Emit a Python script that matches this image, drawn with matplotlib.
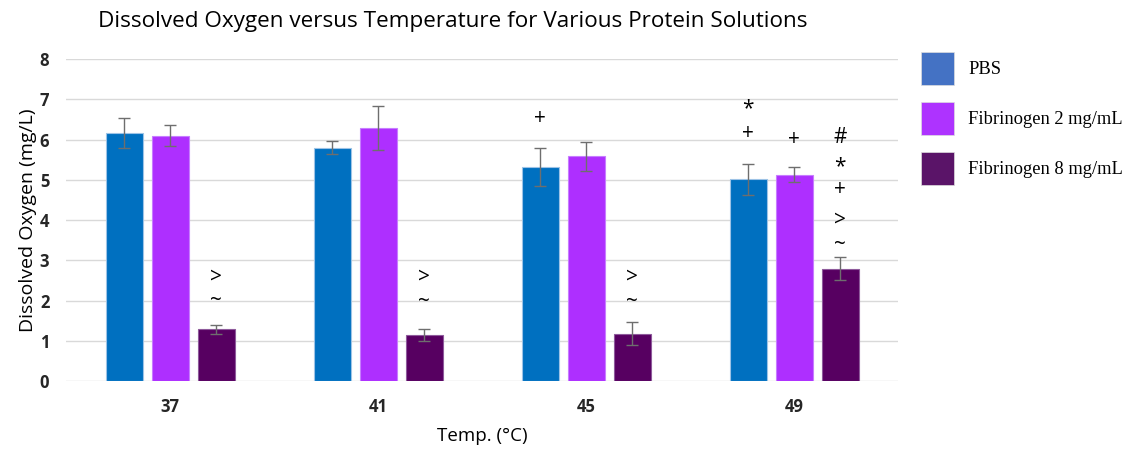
import matplotlib
matplotlib.use("Agg")
import matplotlib.pyplot as plt
from matplotlib.patches import Patch
import numpy as np

temps = ["37", "41", "45", "49"]
series = ["PBS", "Fibrinogen 2 mg/mL", "Fibrinogen 8 mg/mL"]
pbs = [6.16, 5.80, 5.32, 5.01]
fib2 = [6.09, 6.29, 5.58, 5.13]
fib8 = [1.28, 1.15, 1.18, 2.79]
pbs_err = [0.38, 0.16, 0.47, 0.39]
fib2_err = [0.26, 0.55, 0.36, 0.19]
fib8_err = [0.10, 0.15, 0.29, 0.28]

# significance markers: (temperature index, series index, symbol, y position)
markers = [
    (0, 2, ">", 2.58), (0, 2, "~", 1.99),
    (1, 2, ">", 2.58), (1, 2, "~", 1.97),
    (2, 0, "+", 6.53),
    (2, 2, ">", 2.58), (2, 2, "~", 1.97),
    (3, 0, "*", 6.76), (3, 0, "+", 6.14),
    (3, 1, "+", 5.99),
    (3, 2, "#", 6.04), (3, 2, "*", 5.32), (3, 2, "+", 4.77),
    (3, 2, ">", 4.00), (3, 2, "~", 3.38),
]

bar_colors = ["#0070C0", "#AE2FFF", "#570061"]
edge_colors = ["#9DC3E6", "#C77DFF", "#8E5A9B"]
legend_colors = ["#4472C4", "#AE33FF", "#5A1468"]

plt.rcParams["font.family"] = ["Open Sans", "DejaVu Sans"]

fig = plt.figure(figsize=(11.25, 4.49), dpi=100)
ax = fig.add_axes([0.0587, 0.1514, 0.7396, 0.7172])

x = np.arange(len(temps))
width = 0.178
step = 0.221
values = [pbs, fib2, fib8]
errs = [pbs_err, fib2_err, fib8_err]
for i in range(3):
    xs = x + (i - 1) * step
    ax.bar(xs, values[i], width, color=bar_colors[i], edgecolor=edge_colors[i],
           linewidth=0.8, zorder=3)
    ax.errorbar(xs, values[i], yerr=errs[i], fmt="none", ecolor="#6E6E6E",
                elinewidth=1.0, capsize=4, capthick=1.0, zorder=4)

for ti, si, sym, yv in markers:
    ax.text(x[ti] + (si - 1) * step, yv, sym, ha="center", va="center",
            fontsize=15, color="black", zorder=5)

ax.set_xlim(-0.5, 3.5)
ax.set_ylim(0, 8)
ax.set_yticks(range(0, 9))
ax.set_xticks(x)
ax.set_xticklabels(temps)
ax.yaxis.grid(True, color="#D9D9D9", linewidth=1.0, zorder=0)
ax.set_axisbelow(True)
for s in ["top", "right", "left", "bottom"]:
    ax.spines[s].set_visible(False)
ax.tick_params(axis="both", length=0, labelsize=12)
ax.tick_params(axis="x", pad=12)
ax.tick_params(axis="y", pad=12)
for lbl in ax.get_xticklabels() + ax.get_yticklabels():
    lbl.set_fontweight("bold")
    lbl.set_color("#262626")

ax.set_ylabel("Dissolved Oxygen (mg/L)", fontsize=14, color="black", labelpad=2)
ax.set_xlabel("Temp. (°C)", fontsize=13.5, color="black", labelpad=8)
fig.text(0.0871, 0.953, "Dissolved Oxygen versus Temperature for Various Protein Solutions",
         fontsize=16.2, ha="left", va="center", color="black")

handles = [Patch(facecolor=c, edgecolor="#DDDDDD", linewidth=0.5) for c in legend_colors]
fig.legend(handles, series, loc="upper left", bbox_to_anchor=(0.804, 0.922),
           frameon=False, prop={"family": "Liberation Serif", "size": 13.3},
           handlelength=1.8, handleheight=2.4, handletextpad=0.75, labelspacing=0.9)

fig.savefig("out.png", dpi=100)
